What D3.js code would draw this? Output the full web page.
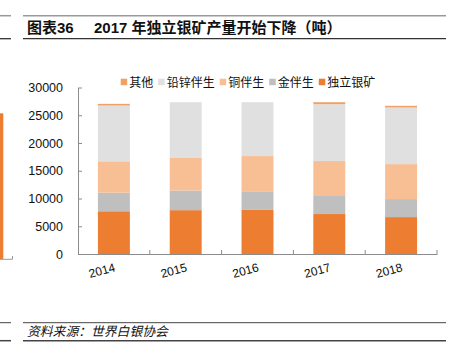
<!DOCTYPE html>
<html>
<head>
<meta charset="utf-8">
<script src="https://cdn.jsdelivr.net/npm/d3@7"></script>
<style>
  body { margin: 0; background: #fff; }
  svg { display: block; font-family: "Liberation Sans", "Noto Sans CJK SC", sans-serif; }
</style>
</head>
<body>
<div id="chart"></div>
<script>
// data (tonnes)
var years = ["2014", "2015", "2016", "2017", "2018"];
var seriesNames = ["独立银矿", "金伴生", "铜伴生", "铅锌伴生", "其他"];
var primary = [7700, 7900, 7950, 7200, 6650];
var goldBy = [3350, 3550, 3350, 3250, 3250];
var copperBy = [5650, 5950, 6350, 6300, 6300];
var leadZincBy = [10050, 9950, 9700, 10250, 10200];
var other = [300, 0, 0, 350, 300];
var yTicks = [0, 5000, 10000, 15000, 20000, 25000, 30000];
var colors = ["#ED7D31", "#BFBFBF", "#F8BF95", "#E0E0E0", "#F2A164"];

var width = 452, height = 363;

var svg = d3.select("#chart").append("svg")
    .attr("width", width)
    .attr("height", height);

// header rules + title
svg.append("line").attr("x1", 0).attr("x2", 11).attr("y1", 15.7).attr("y2", 15.7)
    .attr("stroke", "#999").attr("stroke-width", 1.5);
svg.append("line").attr("x1", 23).attr("x2", 446).attr("y1", 15.7).attr("y2", 15.7)
    .attr("stroke", "#999").attr("stroke-width", 1.5);
svg.append("line").attr("x1", 0).attr("x2", 11).attr("y1", 38.7).attr("y2", 38.7)
    .attr("stroke", "#333").attr("stroke-width", 1.3);
svg.append("line").attr("x1", 23).attr("x2", 446).attr("y1", 38.7).attr("y2", 38.7)
    .attr("stroke", "#333").attr("stroke-width", 1.3);

svg.append("text").attr("x", 27).attr("y", 33)
    .style("font-size", "15px").style("font-weight", "bold").attr("fill", "#111")
    .text("图表36");
svg.append("text").attr("x", 94).attr("y", 33)
    .style("font-size", "15px").style("font-weight", "bold").attr("fill", "#111")
    .text("2017 年独立银矿产量开始下降（吨）");

// footer
svg.append("line").attr("x1", 0).attr("x2", 11).attr("y1", 322.7).attr("y2", 322.7)
    .attr("stroke", "#444").attr("stroke-width", 1);
svg.append("line").attr("x1", 23).attr("x2", 446).attr("y1", 322.7).attr("y2", 322.7)
    .attr("stroke", "#444").attr("stroke-width", 1);
svg.append("line").attr("x1", 0).attr("x2", 11).attr("y1", 340.7).attr("y2", 340.7)
    .attr("stroke", "#444").attr("stroke-width", 1.5);
svg.append("line").attr("x1", 23).attr("x2", 446).attr("y1", 340.7).attr("y2", 340.7)
    .attr("stroke", "#444").attr("stroke-width", 1.5);
svg.append("text").attr("x", 27).attr("y", 335.5)
    .style("font-size", "12.8px").style("font-style", "italic").attr("fill", "#111")
    .text("资料来源：世界白银协会");

// leftover piece of the neighbouring chart on the left edge
svg.append("rect").attr("x", 0).attr("y", 113.3).attr("width", 3.3).attr("height", 145.7)
    .attr("fill", "#ED7D31");
svg.append("path").attr("d", "M0,259.3H12.5V256")
    .attr("fill", "none").attr("stroke", "#999").attr("stroke-width", 1);

// scales
var x = d3.scaleBand().domain(years).range([78, 437])
    .paddingInner(0.555).paddingOuter(0.2775);
var y = d3.scaleLinear().domain([0, 30000]).range([254, 87.5]);

// stacked data
var table = years.map(function(yr, i) {
  return { year: yr, "独立银矿": primary[i], "金伴生": goldBy[i], "铜伴生": copperBy[i],
           "铅锌伴生": leadZincBy[i], "其他": other[i] };
});
var stacked = d3.stack().keys(seriesNames)(table);

svg.append("g").selectAll("g")
    .data(stacked)
    .enter().append("g")
    .attr("fill", function(d, i) { return colors[i]; })
    .selectAll("rect")
    .data(function(d) { return d; })
    .enter().append("rect")
    .attr("x", function(d) { return x(d.data.year); })
    .attr("width", x.bandwidth())
    .attr("y", function(d) { return y(d[1]); })
    .attr("height", function(d) { return y(d[0]) - y(d[1]); });

// y axis (ticks point inward)
var yAxis = svg.append("g")
    .attr("transform", "translate(78,0)")
    .call(d3.axisLeft(y).tickValues(yTicks).tickFormat(d3.format("d"))
      .tickSizeInner(-4).tickSizeOuter(0).tickPadding(15));
yAxis.select(".domain").attr("stroke", "#8c8c8c");
yAxis.selectAll(".tick line").attr("stroke", "#8c8c8c");
yAxis.selectAll("text").style("font-size", "12.5px").attr("fill", "#111")
    .style("font-family", "'Liberation Sans', Arial, sans-serif");

// x axis: line, boundary ticks, rotated labels
var xAxis = svg.append("g")
    .attr("transform", "translate(0,254)")
    .call(d3.axisBottom(x).tickSize(0).tickPadding(0));
xAxis.select(".domain").attr("stroke", "#8c8c8c");
xAxis.selectAll("text")
    .attr("y", 0).attr("dy", 0)
    .attr("text-anchor", "end")
    .attr("transform", "translate(2,17) rotate(-15)")
    .style("font-size", "12px").attr("fill", "#111")
    .style("font-family", "'Liberation Sans', Arial, sans-serif");
xAxis.selectAll(".bound")
    .data(years)
    .enter().append("line")
    .attr("class", "bound")
    .attr("x1", function(d) { return x(d) + x.bandwidth() / 2 + x.step() / 2; })
    .attr("x2", function(d) { return x(d) + x.bandwidth() / 2 + x.step() / 2; })
    .attr("y1", 0).attr("y2", -4)
    .attr("stroke", "#8c8c8c");

// legend
var legend = svg.append("g").attr("class", "legend");
var lx = 120.7;
seriesNames.slice().reverse().forEach(function(name) {
  var idx = seriesNames.indexOf(name);
  legend.append("rect").attr("x", lx).attr("y", 78.7).attr("width", 6.5).attr("height", 6.5)
      .attr("fill", colors[idx]);
  var t = legend.append("text").attr("x", lx + 8.5).attr("y", 86.5)
      .style("font-size", "12px").attr("fill", "#111").text(name);
  lx += 8.5 + t.node().getComputedTextLength() + 5;
});
</script>
</body>
</html>
